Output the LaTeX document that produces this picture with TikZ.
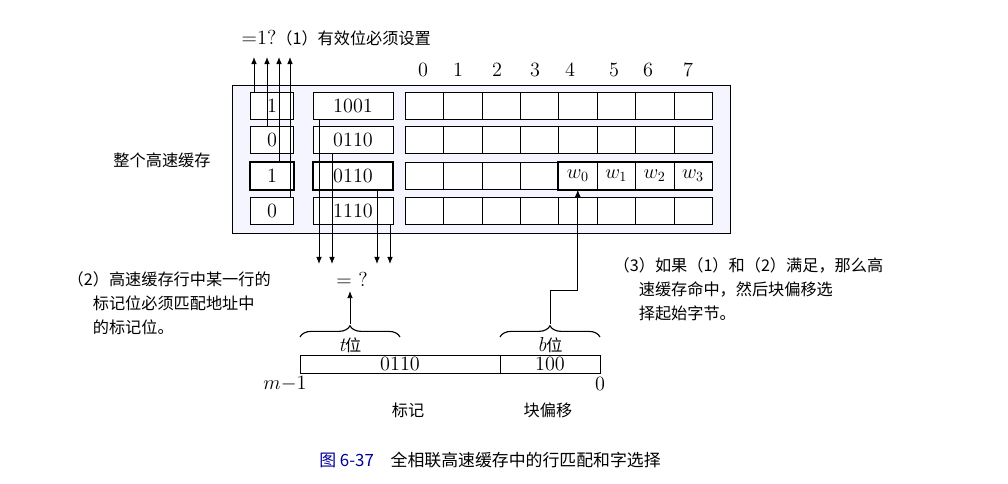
\documentclass[tikz,border=0pt]{standalone}
\usepackage{fontspec}
\newfontfamily\cjk{Noto Sans CJK SC}
\usetikzlibrary{arrows.meta, decorations.pathreplacing}
\tikzstyle{valid} = [draw=black, minimum width=1.075cm, minimum height=0.675cm, inner sep=0pt, font=\Large]
\tikzstyle{tagbox} = [draw=black, minimum width=2cm, minimum height=0.675cm, inner sep=0pt, font=\Large]
\tikzstyle{blk} = [draw=black, minimum width=0.96cm, minimum height=0.675cm, inner sep=0pt, font=\Large]
\tikzstyle{arrow} = [semithick, -{Latex[length=5pt,width=4pt]}]
\tikzstyle{label} = [inner sep=1pt, font=\cjk\fontsize{11.5}{17}\selectfont, align=left]
\begin{document}
\begin{tikzpicture}[x=0.025cm, y=-0.025cm]
    \useasboundingbox (0,0) rectangle (1008,484);
    % whole cache
    \draw[fill=blue!4] (232,85) rectangle (730,233);
    \foreach \r/\y/\v/\t in {1/106/1/1001, 2/140/0/0110, 3/176/1/0110, 4/211/0/1110} {
      \node (valid-\r) [valid, fill=white] at (272,\y) {\v};
      \node (tag-\r) [tagbox, fill=white] at (353,\y) {\t};
      \foreach \c in {0,...,7}
        \node (blk-\r-\c) [blk, fill=white] at ({405+38.4*(\c+0.5)},\y) {};
    }
    \draw[very thick] (valid-3.north west) rectangle (valid-3.south east);
    \draw[very thick] (tag-3.north west) rectangle (tag-3.south east);
    \draw[very thick] (blk-3-4.north west) rectangle (blk-3-7.south east);
    \foreach \c/\w in {4/0,5/1,6/2,7/3}
      \node [font=\Large] at (blk-3-\c) {$w_{\w}$};
    % column numbers
    \foreach \c/\x in {0/423,1/458,2/497,3/535,4/570,5/614,6/648,7/688}
      \node (col-\c) [font=\Large] at (\x,70) {\c};
    \node (valid-q) [label, anchor=west] at (240,38) {\rmfamily\Large =1?\cjk\fontsize{11.5}{17}\selectfont（1）有效位必须设置};
    \node (cache-lbl) [label] at (162,160) {整个高速缓存};
    % valid bit checks
    \foreach \r/\x in {1/254,2/267,3/279,4/290} {
      \coordinate (vt-\r) at (\x,57);
      \draw[arrow] (vt-\r |- valid-\r.north) -- (vt-\r);
    }
    % tag comparisons
    \foreach \r/\x in {1/319,2/332,3/377,4/390} {
      \coordinate (tt-\r) at (\x,264);
      \draw[arrow] (tt-\r |- tag-\r.south) -- (tt-\r);
    }
    \node (eq) [font=\Large] at (352,279) {= ?};
    \node (tag-lbl) [label, anchor=west] at (66,303) {（2）高速缓存行中某一行的\\\quad\;\;标记位必须匹配地址中\\\quad\;\;的标记位。};
    \node (hit-lbl) [label, anchor=west] at (612,289) {（3）如果（1）和（2）满足，那么高\\\quad\;\;速缓存命中，然后块偏移选\\\quad\;\;择起始字节。};
    % address
    \node (addr-t) [draw, minimum width=5cm, minimum height=0.45cm, inner sep=0pt, font=\Large] at (400,364) {0110};
    \node (addr-b) [draw, minimum width=2.5cm, minimum height=0.45cm, inner sep=0pt, font=\Large] at (550,364) {100};
    \draw[decorate, decoration={brace, amplitude=8pt}, thick] (300,337) -- (400,337);
    \draw[decorate, decoration={brace, amplitude=8pt}, thick] (500,337) -- (600,337);
    \coordinate (t-tip) at (350,324);
    \coordinate (b-tip) at (550,324);
    \node (t-lbl) [label] at (350,345) {\rmfamily\itshape\Large t\cjk\upshape\fontsize{11.5}{17}\selectfont 位};
    \node (b-lbl) [label] at (550,345) {\rmfamily\itshape\Large b\cjk\upshape\fontsize{11.5}{17}\selectfont 位};
    \draw[arrow] (t-tip) -- (t-tip |- eq.south);
    \draw[arrow] (b-tip) -- (550,290) -| (blk-3-4.south);
    \node (m-lbl) [font=\Large] at (285,384) {$m{-}1$};
    \node (z-lbl) [font=\Large] at (600,384) {0};
    \node (tag-name) [label] at (408,410) {标记};
    \node (off-name) [label] at (548,410) {块偏移};
    \node (caption) [label, font=\cjk\fontsize{12}{14}\selectfont] at (490,460) {\textcolor{blue!60!black}{图 6-37}\quad 全相联高速缓存中的行匹配和字选择};
\end{tikzpicture}
\end{document}
